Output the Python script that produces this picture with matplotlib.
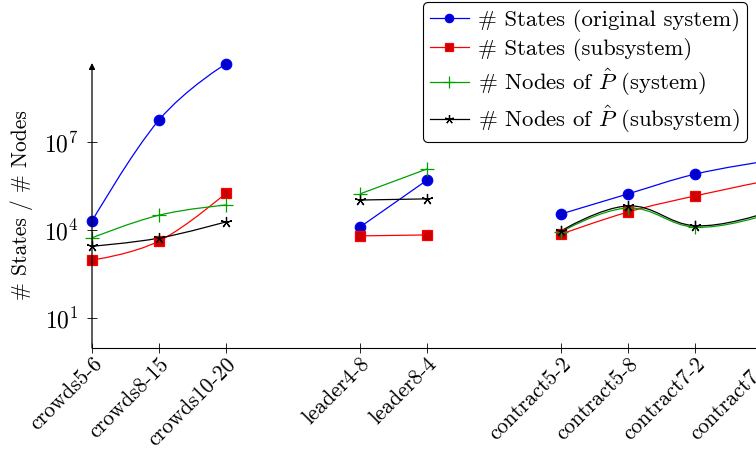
import numpy as np
import matplotlib
matplotlib.use("Agg")
import matplotlib.pyplot as plt
from matplotlib.path import Path
from matplotlib.patches import PathPatch
from matplotlib.lines import Line2D

plt.rcParams['font.family'] = 'serif'
plt.rcParams['font.serif'] = ['cmr10']
plt.rcParams['mathtext.fontset'] = 'cm'
plt.rcParams['axes.formatter.use_mathtext'] = True

# benchmarks, grouped (gaps between groups on the x axis)
labels = ['crowds5-6', 'crowds8-15', 'crowds10-20',
          'leader4-8', 'leader8-4',
          'contract5-2', 'contract5-8', 'contract7-2', 'contract7-4']
xpos = [0, 1, 2, 4, 5, 7, 8, 9, 10]
groups = [(0, 3), (3, 5), (5, 9)]

states_orig = [2.0e4, 5.6e7, 4.6e9, 1.26e4, 5.0e5, 3.5e4, 1.7e5, 8.0e5, 2.1e6]
states_sub = [950, 4200, 1.8e5, 6300, 6800, 7200, 4.1e4, 1.45e5, 4.4e5]
nodes_sys = [5400, 3.2e4, 7.1e4, 1.7e5, 1.2e6, 8500, 5.6e4, 1.25e4, 3.0e4]
nodes_sub = [2800, 5300, 1.9e4, 1.05e5, 1.15e5, 9300, 6.6e4, 1.4e4, 3.5e4]


# pgfplots-like "smooth" curve: cubic bezier built in (x, log y) space
def smooth_path(xs, ys, t=0.2):
    p = np.column_stack([xs, np.log10(ys)])
    n = len(p)
    d = np.zeros_like(p)
    for i in range(1, n - 1):
        d[i] = t * (p[i + 1] - p[i - 1])
    verts = [p[0]]
    codes = [Path.MOVETO]
    for i in range(n - 1):
        verts += [p[i] + d[i], p[i + 1] - d[i + 1], p[i + 1]]
        codes += [Path.CURVE4] * 3
    verts = np.array(verts)
    verts[:, 1] = 10 ** verts[:, 1]
    return Path(verts, codes)


fig = plt.figure(figsize=(7.56, 4.5), dpi=100)
ax = fig.add_axes([92 / 756, 102 / 450, 11 * 67 / 756, 285 / 450])
ax.set_yscale('log')
ax.set_xlim(0, 11)
ax.set_ylim(10 ** -0.02, 10 ** 9.69)

series = [
    (states_orig, 'blue', 'o', '#0000cc', 7.5, r'# States (original system)'),
    (states_sub, 'red', 's', '#cc0000', 7, r'# States (subsystem)'),
    (nodes_sys, '#00a000', '+', '#00a000', 10, r'# Nodes of $\hat{P}$ (system)'),
    (nodes_sub, 'black', (5, 2, 0), 'black', 8, r'# Nodes of $\hat{P}$ (subsystem)'),
]

handles = []
for vals, col, mk, fc, ms, lab in series:
    for a, b in groups:
        path = smooth_path(xpos[a:b], vals[a:b])
        ax.add_patch(PathPatch(path, fill=False, edgecolor=col, lw=0.9, zorder=2))
    ax.plot(xpos, vals, linestyle='none', marker=mk, markersize=ms,
            markerfacecolor=fc, markeredgecolor=col,
            markeredgewidth=0.9, zorder=3, clip_on=False)
    handles.append(Line2D([], [], color=col, lw=0.9, marker=mk, markersize=ms * 0.8,
                          markerfacecolor=fc, markeredgecolor=col, markeredgewidth=0.9))

ax.spines['top'].set_visible(False)
ax.spines['right'].set_visible(False)
ax.spines['left'].set_visible(False)
ax.annotate('', xy=(0, 1.0), xytext=(0, 0), xycoords='axes fraction',
            arrowprops=dict(arrowstyle='-|>', lw=0.9, color='black',
                            mutation_scale=9, shrinkA=0, shrinkB=0))

ax.set_xticks(xpos)
ax.set_xticklabels(labels, rotation=45, ha='right', rotation_mode='anchor', fontsize=15.5)
ax.set_yticks([1e1, 1e4, 1e7])
ax.yaxis.set_minor_locator(matplotlib.ticker.NullLocator())
ax.tick_params(axis='both', direction='inout', length=7, width=0.6, labelsize=17)
ax.tick_params(axis='x', pad=1, labelsize=15.5)
ax.tick_params(axis='y', pad=6)
ax.set_ylabel('# States / # Nodes', fontsize=15.5, labelpad=8)

leg = fig.legend(handles, [s[5] for s in series], loc='upper right',
                 bbox_to_anchor=(749 / 756, 1.0), fontsize=16.4, frameon=True,
                 fancybox=True, edgecolor='black', framealpha=1,
                 handlelength=1.7, handletextpad=0.4, labelspacing=0.25,
                 borderpad=0.3, borderaxespad=0.1)
leg.get_frame().set_linewidth(0.8)

fig.savefig('out.png', dpi=100)
